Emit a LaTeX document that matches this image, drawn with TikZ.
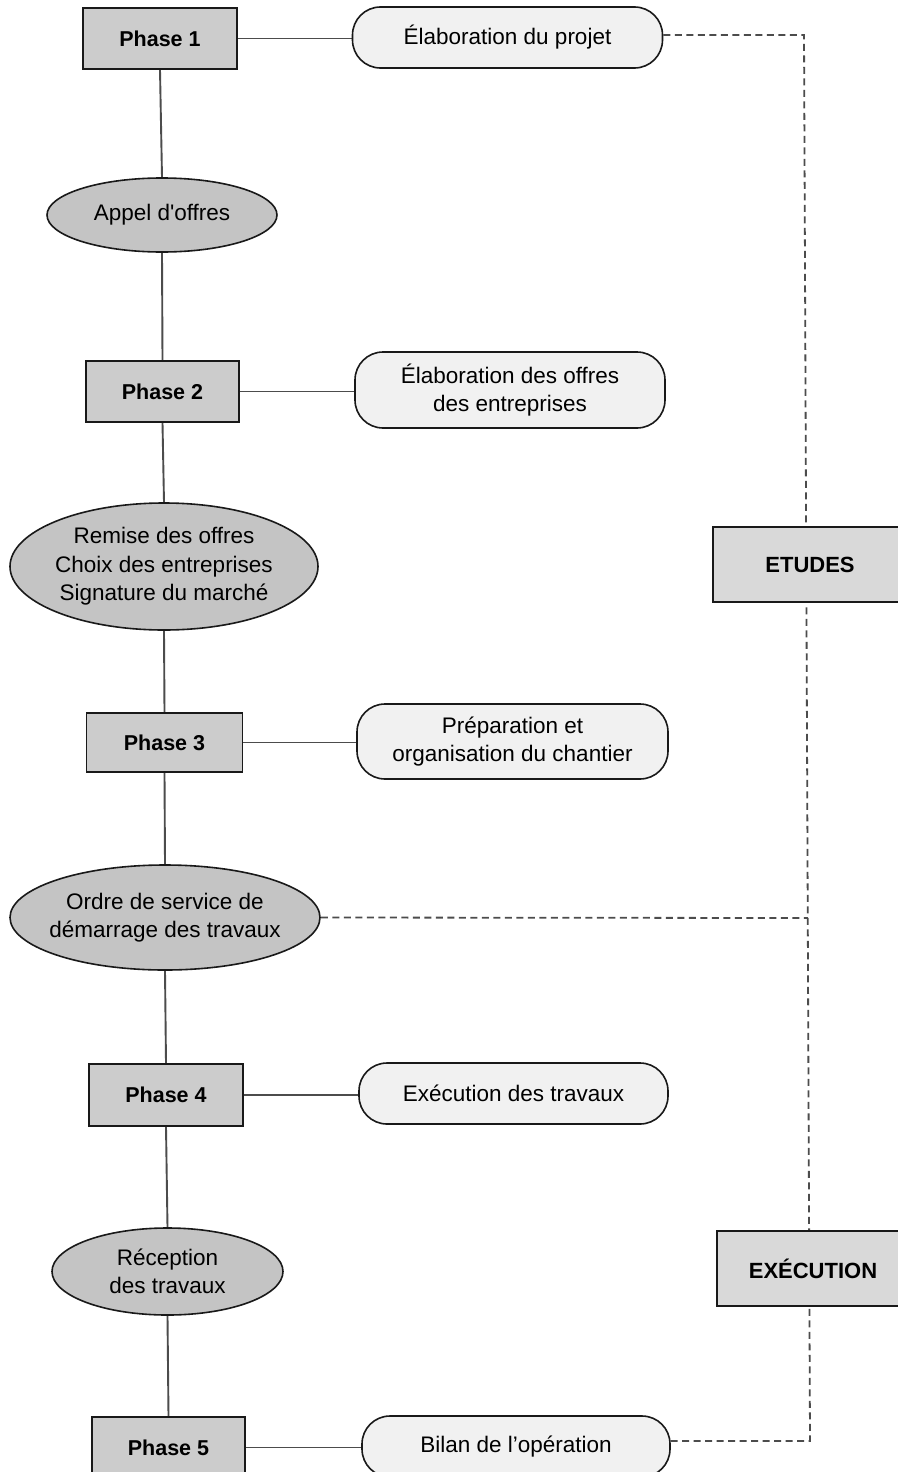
\documentclass[tikz,border=0pt]{standalone}
\usepackage{fontspec}
\setmainfont{Liberation Sans}
\usetikzlibrary{shapes.geometric,backgrounds}
\definecolor{boxgray}{gray}{0.80}
\definecolor{ellgray}{gray}{0.77}
\definecolor{pillgray}{gray}{0.945}
\definecolor{sidegray}{gray}{0.85}
\definecolor{linegray}{gray}{0.30}
\definecolor{edgegray}{gray}{0.10}
\newcommand\straightquote{\XeTeXglyph\XeTeXglyphindex "quotesingle"\relax}
\begin{document}
\begin{tikzpicture}[x=1pt,y=-1pt,
  phasebox/.style={draw=edgegray, line width=1.7pt, fill=boxgray, text=black,
    font=\bfseries\fontsize{21.5}{26}\selectfont, minimum width=154pt, minimum height=61pt, inner sep=0pt},
  pill/.style={draw=edgegray, line width=1.6pt, fill=pillgray, rounded corners=28pt, align=center,
    font=\fontsize{22.5}{28.5}\selectfont, minimum width=310pt, minimum height=61pt, inner sep=0pt},
  ell/.style={ellipse, draw=edgegray, line width=1.6pt, fill=ellgray, inner sep=0pt},
  elltext/.style={align=center, font=\fontsize{22.5}{28.5}\selectfont, inner sep=0pt},
  sidebox/.style={draw=edgegray, line width=1.7pt, fill=sidegray,
    font=\bfseries\fontsize{22}{26}\selectfont, minimum width=194pt, minimum height=75pt, inner sep=0pt},
  link/.style={draw=linegray, line width=1.9pt},
  dashlink/.style={draw=linegray, line width=1.8pt, dash pattern=on 7pt off 4.5pt}
]
\useasboundingbox (0,0) rectangle (897,1472);

% main column
\node[phasebox] (p1) at (160,38.5) {Phase 1};
\node[pill] (e1) at (507.5,37.5) {Élaboration du projet};
\node[ell, minimum width=230pt, minimum height=74pt,
  label={[elltext]center:{Appel d\straightquote offres}}] (appel) at (162,215) {};
\node[phasebox, minimum width=153pt] (p2) at (162.5,391.5) {Phase 2};
\node[pill, minimum height=76pt] (e2) at (510,390) {Élaboration des offres\\des entreprises};
\node[ell, minimum width=308pt, minimum height=127pt,
  label={[elltext]center:{Remise des offres\\Choix des entreprises\\Signature du marché}}] (remise) at (164,566.5) {};
\node[phasebox, minimum width=156pt, minimum height=59pt] (p3) at (164.5,742.5) {Phase 3};
\node[pill, minimum width=311pt, minimum height=75pt] (e3) at (512.5,741.5) {Préparation et\\organisation du chantier};
\node[ell, minimum width=310pt, minimum height=105pt,
  label={[elltext]center:{Ordre de service de\\démarrage des travaux}}] (ordre) at (165,917.5) {};
\node[phasebox, minimum height=62pt] (p4) at (166,1095) {Phase 4};
\node[pill, minimum width=309pt] (e4) at (513.5,1093.5) {Exécution des travaux};
\node[ell, minimum width=231pt, minimum height=87pt,
  label={[elltext]center:{Réception\\des travaux}}] (recep) at (167.5,1271.5) {};
\node[phasebox, minimum width=153pt] (p5) at (168.5,1447.5) {Phase 5};
\node[pill, minimum width=308pt] (e5) at (516,1446.5) {Bilan de l’opération};

% right column labels
\node[sidebox] (etudes) at (810,564.5) {ETUDES};
\node[sidebox, minimum width=192pt] (exec) at (813,1268.5) {EXÉCUTION};

% dashed corners
\coordinate (c1) at (804,35);
\coordinate (c2) at (810,1441);
\coordinate (cj) at (807.8,918);

\begin{scope}[on background layer]
  \fill[white] (0,0) rectangle (897,1472);
  \draw[link] (p1.south) -- (appel.north);
  \draw[link] (appel.south) -- (p2.north);
  \draw[link] (p2.south) -- (remise.north);
  \draw[link] (remise.south) -- (p3.north);
  \draw[link] (p3.south) -- (ordre.north);
  \draw[link] (ordre.south) -- (p4.north);
  \draw[link] (p4.south) -- (recep.north);
  \draw[link] (recep.south) -- (p5.north);
  \draw[link] (p1.east) -- (e1.west |- p1.east);
  \draw[link] (p2.east) -- (e2.west |- p2.east);
  \draw[link] (p3.east) -- (e3.west |- p3.east);
  \draw[link] (p4.east) -- (e4.west |- p4.east);
  \draw[link] (p5.east) -- (e5.west |- p5.east);
  \draw[dashlink] (e1.east |- c1) -- (c1) -- (c2) -- (e5.east |- c2);
  \draw[dashlink] (ordre.east) -- (cj);
\end{scope}
\end{tikzpicture}
\end{document}
